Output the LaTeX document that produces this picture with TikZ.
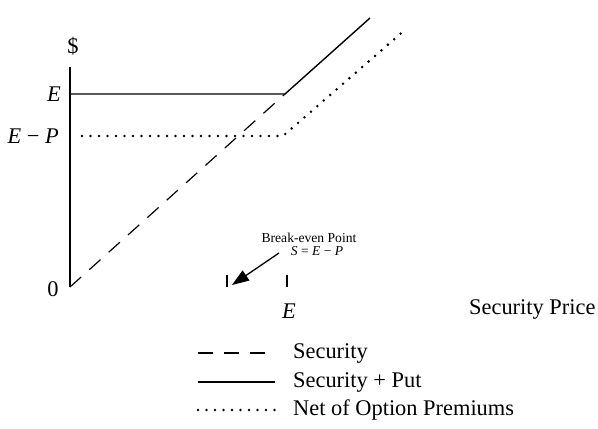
\documentclass[tikz,border=0pt]{standalone}
\usepackage{fontspec}
\setmainfont{Liberation Serif}
\usetikzlibrary{arrows.meta}
\tikzset{
  payoff/.style={line width=1.4pt},
  dashline/.style={line width=1.2pt, dash pattern=on 15pt off 11pt},
  dotline/.style={line width=2.8pt, line cap=round, dash pattern=on 0pt off 8.5pt},
  small/.style={font=\fontsize{13.6}{15}\selectfont},
}
\begin{document}
\begin{tikzpicture}[x=1pt,y=-1pt,every node/.style={inner sep=0pt,font=\fontsize{22.4}{26}\selectfont}]
\useasboundingbox (0,0) rectangle (598,429);
\coordinate (o) at (70,287);
\coordinate (top) at (70,67);
\coordinate (el) at (71,94);
\coordinate (ek) at (285,94);
\coordinate (ee) at (370,18);
\coordinate (pl) at (82,136);
\coordinate (pk) at (283,136);
\coordinate (pe) at (406,29);
\coordinate (tbe) at (227,287);
\coordinate (te) at (287,287);
\node (dollar) at (73,46) {\$};
\node[anchor=east] (le) at (61,94) {\textit{E}};
\node[anchor=east] (lep) at (59,136) {\textit{E} − \textit{P}};
\node (zero) at (53,289) {0};
\node (lx) at (289,311) {\textit{E}};
\node[anchor=west] (price) at (469,309) {Security Price};
\node[small] (brk) at (309,238) {Break-even Point};
\node[small] (seq) at (317,251) {\textit{S} = \textit{E} − \textit{P}};
\draw[payoff] (o) -- (top);
\draw[payoff] (el) -- (ek) -- (ee);
\draw[dotline] (pl) -- (pk) -- (pe);
\draw[dashline] (o) -- (ek);
\draw[line width=1.2pt] (tbe) -- ++(0,-12);
\draw[line width=1.2pt] (te) -- ++(0,-12);
\draw[line width=1.3pt,-{Triangle[length=17pt,width=12pt]}] (279,253) -- (232,285);
\coordinate (l1a) at (198,353);
\coordinate (l1b) at (275,353);
\coordinate (l2a) at (198,382);
\coordinate (l2b) at (275,382);
\coordinate (l3a) at (198,410);
\coordinate (l3b) at (275,410);
\draw[dashline] (l1a) -- (l1b);
\draw[payoff] (l2a) -- (l2b);
\draw[dotline] (l3a) -- (l3b);
\node[anchor=west] (k1) at (293,353) {Security};
\node[anchor=west] (k2) at (293,382) {Security + Put};
\node[anchor=west] (k3) at (293,410) {Net of Option Premiums};
\end{tikzpicture}
\end{document}
